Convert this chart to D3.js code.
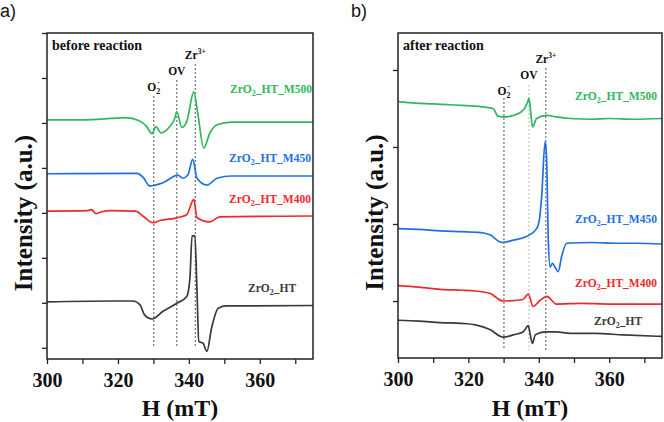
<!DOCTYPE html>
<html>
<head>
<meta charset="utf-8">
<script src="https://cdn.jsdelivr.net/npm/d3@7"></script>
<style>
  body { margin: 0; background: #fff; }
  svg text { font-family: "Liberation Serif", "Times New Roman", Tinos, Times, serif; font-weight: bold; }
</style>
</head>
<body>
<div class="main"></div>
<script>
// Dimensions
const width = 664;
const height = 422;
const serif = '"Liberation Serif", "Times New Roman", Tinos, Times, serif';

// Champ magnétique (mT) / intensité (u.a.) -- panneau a) avant réaction
const aM500 = [[300,5.07],[310,5.07],[318,5.10],[322,5.12],[326,5.05],[328,4.93],[329.6,4.76],[330.7,4.92],[332.1,4.78],[334.6,4.92],[336,5.10],[336.6,5.25],[338,4.90],[339.4,5.03],[341.4,5.69],[342.5,5.22],[344.2,4.44],[345.9,4.77],[347.9,4.96],[352,5.02],[375,5.02]];
const aM450 = [[300,3.87],[325.4,3.88],[327,3.80],[329,3.60],[332.7,3.67],[336.9,3.84],[338.3,3.77],[339.7,3.84],[341.1,4.19],[342.3,3.77],[345.1,3.62],[347.9,3.77],[352,3.82],[375,3.82]];
const aM400 = [[300,3.04],[311.5,3.05],[312.6,3.07],[313.8,2.98],[315.2,3.02],[318,3.05],[325,3.04],[327,2.93],[329.9,2.78],[331.8,2.83],[336.6,2.89],[339.4,2.96],[341.4,3.30],[342.3,2.89],[345.9,2.80],[348.7,2.91],[375,2.93]];
const aHT = [[300,1.02],[318,1.04],[324.2,1.04],[326.2,0.96],[327.5,0.73],[329.6,0.64],[332.7,0.81],[336.6,0.99],[339.4,1.14],[340.3,1.55],[340.9,2.49],[341.7,2.49],[342.3,1.25],[342.8,0.14],[344,0.10],[345.1,-0.08],[346.4,0.44],[348.3,0.88],[350.6,0.93],[375,0.94]];

// panneau b) après réaction
const bM500 = [[300,2.59],[305,2.57],[310,2.56],[314,2.55],[318,2.54],[322,2.53],[327,2.50],[328.4,2.40],[329.9,2.39],[332.8,2.41],[335.6,2.48],[336.8,2.58],[337.2,2.63],[337.7,2.46],[338.2,2.26],[339.4,2.37],[342.2,2.41],[345,2.39],[348.9,2.37],[355,2.36],[360,2.37],[367,2.36],[375,2.37]];
const bM450 = [[300,0.94],[306,0.93],[312,0.91],[318,0.90],[323,0.89],[326.1,0.86],[329.5,0.76],[332.8,0.79],[336.6,0.84],[339.4,0.94],[340.3,1.10],[340.8,1.35],[341.8,2.07],[342.2,1.87],[342.7,0.79],[343.2,0.44],[343.9,0.49],[344.6,0.44],[345.5,0.38],[346.5,0.58],[347.9,0.75],[355,0.76],[362,0.75],[368,0.75],[375,0.74]];
const bM400 = [[300,0.20],[306,0.18],[312,0.15],[318,0.14],[322,0.13],[326.1,0.10],[329.8,0.00],[335.5,0.02],[337,0.09],[338.4,-0.07],[340.4,0.01],[342.3,0.06],[345,-0.04],[352,-0.03],[360,-0.04],[368,-0.04],[375,-0.04]];
const bHT = [[300,-0.25],[306,-0.26],[312,-0.28],[318,-0.29],[322,-0.31],[326.1,-0.37],[329.9,-0.47],[332.8,-0.44],[335.6,-0.40],[337,-0.32],[337.5,-0.42],[338.2,-0.55],[339,-0.44],[341.8,-0.40],[345,-0.40],[348.9,-0.42],[356,-0.42],[364,-0.44],[375,-0.46]];

const seriesNames = ['ZrO2_HT_M500', 'ZrO2_HT_M450', 'ZrO2_HT_M400', 'ZrO2_HT'];
const seriesColors = ['#2fb85c', '#1f6fe3', '#f0282c', '#3a3a3a'];
const xTicks = [300, 310, 320, 330, 340, 350, 360, 370];
const peakNames = ['O2-', 'OV', 'Zr3+'];
const peaksA = [330.1, 336.6, 341.8];
const peaksB = [330.1, 337.2, 342.0];

const svg = d3.select('.main')
  .append('svg')
  .attr('width', width)
  .attr('height', height);

function drawPanel(p) {
  const x = d3.scaleLinear().domain([300, 375]).range([p.left, p.right]);
  const y = d3.scaleLinear().domain(p.yDomain).range([p.bottom, p.top]);
  const g = svg.append('g');

  // lignes pointillées des pics
  p.peaks.forEach((h, i) => {
    g.append('line')
      .attr('x1', x(h)).attr('x2', x(h))
      .attr('y1', p.peakTop[i]).attr('y2', p.peakBottom)
      .attr('stroke', p.peakColor[i])
      .attr('stroke-width', 1)
      .attr('stroke-dasharray', '2,2');
  });

  // courbes
  const line = d3.line().x(d => x(d[0])).y(d => y(d[1])).curve(d3.curveMonotoneX);
  p.series.forEach((s, i) => {
    g.append('path')
      .attr('d', line(s))
      .attr('fill', 'none')
      .attr('stroke', seriesColors[i])
      .attr('stroke-width', 1.7)
      .attr('stroke-linejoin', 'round');
  });

  // étiquettes des séries
  p.series.forEach((s, i) => {
    const t = g.append('text')
      .attr('x', p.labelPos[i][0]).attr('y', p.labelPos[i][1])
      .attr('fill', seriesColors[i])
      .style('font-size', '11.5px');
    const parts = seriesNames[i].split('2');
    t.append('tspan').text(parts[0]);
    t.append('tspan').attr('dy', 3).style('font-size', '8px').text('2');
    t.append('tspan').attr('dy', -3).text(parts.slice(1).join('2'));
  });

  // étiquettes des pics
  peakNames.forEach((n, i) => {
    const t = g.append('text')
      .attr('x', x(p.peaks[i])).attr('y', p.peakLabelY[i])
      .attr('text-anchor', 'middle')
      .attr('fill', '#111')
      .style('font-size', '11.5px');
    if (n === 'O2-') {
      t.append('tspan').text('O');
      t.append('tspan').attr('dy', 3).style('font-size', '8px').text('2');
      t.append('tspan').attr('dy', -9).attr('dx', -3).style('font-size', '8px').text('·');
    } else if (n === 'Zr3+') {
      t.append('tspan').text('Zr');
      t.append('tspan').attr('dy', -5).style('font-size', '7.5px').text('3+');
    } else {
      t.text(n);
    }
  });

  // axes
  svg.append('g')
    .attr('transform', `translate(0,${p.bottom})`)
    .call(d3.axisBottom(x).tickValues(xTicks).tickSize(5).tickPadding(9)
      .tickFormat(d => d % 20 === 0 ? d : ''))
    .call(a => a.select('.domain').remove())
    .call(a => a.selectAll('line').attr('stroke', '#222').attr('stroke-width', 1.3))
    .call(a => a.selectAll('text').attr('fill', '#111')
      .style('font-size', '20px').style('font-family', serif).style('font-weight', 'bold'));

  svg.append('g')
    .attr('transform', `translate(${p.left},0)`)
    .call(d3.axisLeft(y).tickValues(p.yTicks).tickSize(5).tickFormat(''))
    .call(a => a.select('.domain').remove())
    .call(a => a.selectAll('line').attr('stroke', '#222').attr('stroke-width', 1.3));

  // cadre
  svg.append('rect')
    .attr('x', p.left).attr('y', p.top)
    .attr('width', p.right - p.left).attr('height', p.bottom - p.top)
    .attr('fill', 'none').attr('stroke', '#222').attr('stroke-width', 1.5);

  svg.append('text')
    .attr('x', p.left + 5).attr('y', 50)
    .attr('fill', '#111')
    .style('font-size', '14px')
    .text(p.title);

  svg.append('text')
    .attr('x', (p.left + p.right) / 2).attr('y', 416)
    .attr('text-anchor', 'middle').attr('fill', '#111')
    .style('font-size', '24px')
    .text('H (mT)');

  svg.append('text')
    .attr('transform', `translate(${p.left - 15},${(p.top + p.bottom) / 2 + 17}) rotate(-90)`)
    .attr('text-anchor', 'middle').attr('fill', '#111')
    .style('font-size', '25px')
    .text('Intensity (a.u.)');

  svg.append('text')
    .attr('x', p.left - 47).attr('y', 17)
    .attr('fill', '#111')
    .style('font-family', '"Liberation Sans", Arial, "DejaVu Sans", sans-serif')
    .style('font-weight', 'normal')
    .style('font-size', '18px')
    .text(p.letter);
}

drawPanel({
  letter: 'a)', title: 'before reaction',
  left: 47, right: 313, top: 33, bottom: 359,
  yDomain: [-0.25, 7], yTicks: [0, 1, 2, 3, 4, 5, 6, 7],
  series: [aM500, aM450, aM400, aHT],
  labelPos: [[230, 93], [229, 162], [229, 203], [248, 292]],
  peaks: peaksA, peakTop: [96, 80, 64], peakBottom: 346,
  peakColor: ['#555', '#555', '#555'],
  peakLabelY: [91, 75, 59]
});

drawPanel({
  letter: 'b)', title: 'after reaction',
  left: 398, right: 662, top: 33, bottom: 358,
  yDomain: [-0.74, 3.48], yTicks: [0, 1, 2, 3],
  series: [bM500, bM450, bM400, bHT],
  labelPos: [[575, 100], [575, 223], [575, 287], [594, 325]],
  peaks: peaksB, peakTop: [98, 85, 68], peakBottom: 350,
  peakColor: ['#555', '#bbb', '#555'],
  peakLabelY: [95, 79, 63]
});
</script>
</body>
</html>
